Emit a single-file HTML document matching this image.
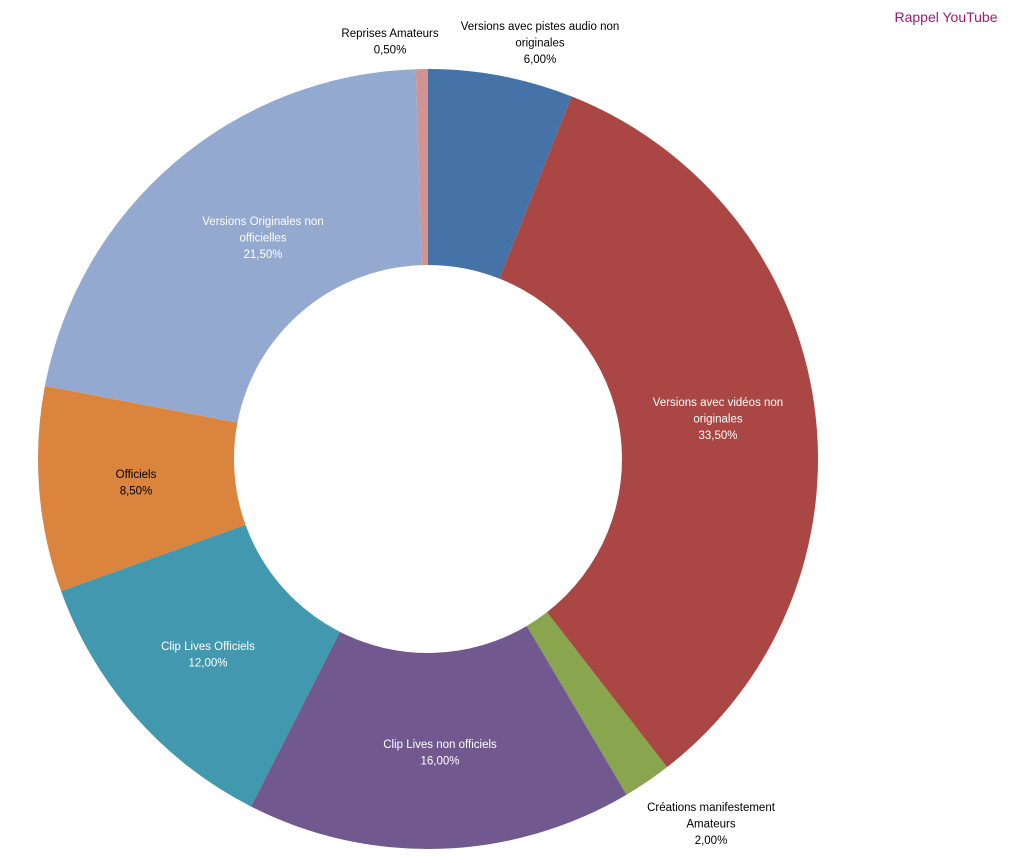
<!DOCTYPE html>
<html><head><meta charset="utf-8">
<style>
html,body{margin:0;padding:0;background:#fff;}
body{width:1018px;height:863px;overflow:hidden;position:relative;font-family:"Liberation Sans",sans-serif;}
svg{position:absolute;left:0;top:0;}
</style></head>
<body>
<svg id="chart" width="1018" height="863">
<text x="946" y="22" text-anchor="middle" font-size="14" fill="#9b1b74" font-family="Liberation Sans, sans-serif">Rappel YouTube</text>
</svg>
<script>
const categories = ["Versions avec pistes audio non originales","Versions avec vidéos non originales","Créations manifestement Amateurs","Clip Lives non officiels","Clip Lives Officiels","Officiels","Versions Originales non officielles","Reprises Amateurs"];
const values = [6.0, 33.5, 2.0, 16.0, 12.0, 8.5, 21.5, 0.5];
const valueLabels = ["6,00%","33,50%","2,00%","16,00%","12,00%","8,50%","21,50%","0,50%"];
const colors = ["#4572A7","#AA4643","#89A54E","#71588F","#4198AF","#DB843D","#93A9CF","#D19392"];
const labelLines = [
 ["Versions avec pistes  audio non","originales"],
 ["Versions avec vidéos non","originales"],
 ["Créations manifestement","Amateurs"],
 ["Clip Lives non officiels"],
 ["Clip Lives Officiels"],
 ["Officiels"],
 ["Versions Originales non","officielles"],
 ["Reprises Amateurs"]
];
const labelPos = [[540,30,"#000"],[718,406,"#fff"],[711,811,"#000"],[440,748,"#fff"],[208,650,"#fff"],[136,478,"#000"],[263,225,"#fff"],[390,37,"#000"]];
const cx=428, cy=459, R=390, r=194;
const svg=document.getElementById('chart');
const NS="http://www.w3.org/2000/svg";
const total=values.reduce((a,b)=>a+b,0);
function pt(a,rad){return [cx+rad*Math.sin(a), cy-rad*Math.cos(a)];}
let acc=0;
values.forEach((v,i)=>{
  const a0=acc/total*2*Math.PI; acc+=v; const a1=acc/total*2*Math.PI;
  const large=(a1-a0)>Math.PI?1:0;
  const p0=pt(a0,R),p1=pt(a1,R),q1=pt(a1,r),q0=pt(a0,r);
  const p=document.createElementNS(NS,'path');
  p.setAttribute('d',`M${p0[0]},${p0[1]} A${R},${R} 0 ${large} 1 ${p1[0]},${p1[1]} L${q1[0]},${q1[1]} A${r},${r} 0 ${large} 0 ${q0[0]},${q0[1]} Z`);
  p.setAttribute('fill',colors[i]);
  
  
  svg.appendChild(p);
});
labelLines.forEach((lines,i)=>{
  const [x,y,c]=labelPos[i];
  const t=document.createElementNS(NS,'text');
  
  
  t.setAttribute('text-anchor','middle');
  t.setAttribute('font-size','11.5');
  t.setAttribute('fill',c);
  t.setAttribute('font-family','Liberation Sans, sans-serif');
  lines.concat([valueLabels[i]]).forEach((s,j)=>{
    const ts=document.createElementNS(NS,'tspan');
    ts.setAttribute('x',x); ts.setAttribute('y',y+j*16.5);
    ts.textContent=s; t.appendChild(ts);
  });
  svg.appendChild(t);
});
</script>
</body></html>
